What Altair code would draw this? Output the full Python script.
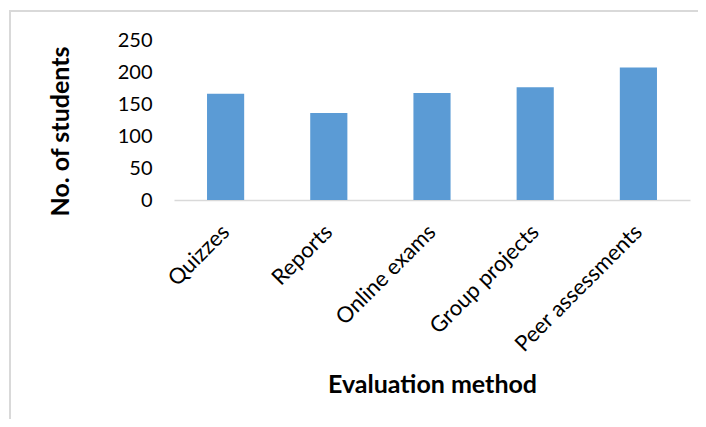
import altair as alt
import pandas as pd

categories = ["Quizzes", "Reports", "Online exams", "Group projects", "Peer assessments"]
values = [166, 136, 167, 176, 207]

df = pd.DataFrame({"method": categories, "students": values})
frame_df = pd.DataFrame({"k": [0]})

FONT = "Lato"

bars = alt.Chart(df).mark_bar(color="#5b9bd5").encode(
    x=alt.X(
        "method:N",
        sort=categories,
        scale=alt.Scale(paddingInner=0.64, paddingOuter=0.32),
        axis=alt.Axis(
            title="Evaluation method",
            labelAngle=-45,
            labelAlign="right",
            labelBaseline="top",
            labelPadding=21,
            labelOffset=-7,
            labelFontSize=22,
            labelColor="#000000",
            labelFont=FONT,
            ticks=False,
            domainColor="#d9d9d9",
            domainWidth=1.5,
            titleFont=FONT,
            titleFontSize=25,
            titleFontWeight="bold",
            titleColor="#000000",
            titleX=258,
            titleY=184,
            titleAlign="center",
            titleBaseline="middle",
        ),
    ),
    y=alt.Y(
        "students:Q",
        scale=alt.Scale(domain=[0, 250]),
        axis=alt.Axis(
            title="No. of students",
            values=[0, 50, 100, 150, 200, 250],
            grid=False,
            ticks=False,
            domain=False,
            labelPadding=22,
            labelFontSize=20,
            labelColor="#000000",
            labelFont=FONT,
            titleFont=FONT,
            titleFontSize=25,
            titleFontWeight="bold",
            titleColor="#000000",
            titleX=-114,
            titleY=91,
            titleAngle=-90,
            titleAlign="center",
            titleBaseline="middle",
        ),
    ),
)

frame = alt.Chart(frame_df).mark_rect(
    fill="transparent", stroke="#d9d9d9", strokeWidth=2, clip=False
).encode(
    x=alt.value(-164),
    x2=alt.value(545),
    y=alt.value(-29),
    y2=alt.value(440),
)

chart = alt.layer(frame, bars).properties(
    width=516,
    height=160,
    autosize=alt.AutoSizeParams(type="none"),
    padding={"left": 166, "top": 32, "right": 8, "bottom": 219},
).configure_view(stroke=None)

chart.save("out.html", embed_options={"renderer": "svg", "actions": False})
